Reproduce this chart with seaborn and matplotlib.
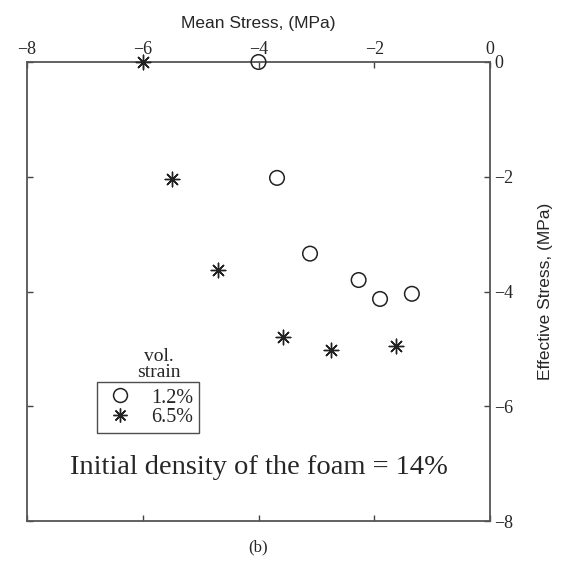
import matplotlib
matplotlib.use("Agg")
import matplotlib.pyplot as plt
import seaborn as sns
import pandas as pd
from matplotlib.lines import Line2D

# Data
circle_x = [-4.0, -3.68, -3.11, -2.27, -1.90, -1.35]
circle_y = [0.0, -2.02, -3.34, -3.80, -4.13, -4.04]
star_x = [-6.0, -5.50, -4.70, -3.58, -2.75, -1.63]
star_y = [0.0, -2.04, -3.62, -4.79, -5.02, -4.95]
series_labels = ["1.2%", "6.5%"]
ticks = [-8, -6, -4, -2, 0]
tick_labels = ["\u22128", "\u22126", "\u22124", "\u22122", "0"]

sns.set_theme(style="white")
plt.rcParams['font.family'] = ['Liberation Serif', 'DejaVu Serif']

df_c = pd.DataFrame({"x": circle_x, "y": circle_y})
df_s = pd.DataFrame({"x": star_x, "y": star_y})

fig = plt.figure(figsize=(5.63, 5.61), dpi=100)
ax = fig.add_axes([27/563, 1-521/561, 463/563, 459/561])

sns.scatterplot(data=df_c, x="x", y="y", ax=ax, marker="o", s=110,
                facecolors="none", edgecolor="#222222", linewidth=1.1,
                zorder=3, clip_on=False)
sns.scatterplot(data=df_s, x="x", y="y", ax=ax, marker=(8, 2, 0), s=110,
                color="#222222", linewidth=1.0, zorder=3, clip_on=False)

ax.set_xlim(-8, 0)
ax.set_ylim(-8, 0)
ax.set_xticks(ticks)
ax.set_yticks(ticks)
ax.set_xticklabels(tick_labels)
ax.set_yticklabels(tick_labels)
ax.xaxis.tick_top()
ax.yaxis.tick_right()
ax.tick_params(axis="both", which="both", direction="in", length=4, width=1,
               color="#444444", labelsize=13, pad=3,
               top=True, bottom=True, left=True, right=True,
               labeltop=True, labelbottom=False, labelright=True, labelleft=False)
for sp in ax.spines.values():
    sp.set_visible(True)
    sp.set_color("#555555")
    sp.set_linewidth(1.3)

ax.xaxis.set_label_position("top")
ax.yaxis.set_label_position("right")
ax.set_xlabel("Mean Stress, (MPa)", fontsize=12.5, family="Liberation Sans", labelpad=9)
ax.set_ylabel("Effective Stress, (MPa)", fontsize=12.5, family="Liberation Sans",
              labelpad=18, rotation=90)

handles = [Line2D([], [], linestyle="none", marker="o", markersize=10,
                  markerfacecolor="none", markeredgecolor="#222222", markeredgewidth=1.1),
           Line2D([], [], linestyle="none", marker=(8, 2, 0), markersize=10,
                  color="#222222", markeredgewidth=1.0)]
leg = ax.legend(handles, series_labels, loc="upper left",
                bbox_to_anchor=(0.151, 0.303), fontsize=14.5, frameon=True,
                fancybox=False, borderpad=0.3, handletextpad=0.7,
                labelspacing=0.0, handlelength=1.7, borderaxespad=0,
                handleheight=0.8)
leg.get_frame().set_edgecolor("#222222")
leg.get_frame().set_linewidth(1.0)

ax.text(0.284, 0.306, "vol.\nstrain", transform=ax.transAxes, ha="center",
        va="bottom", fontsize=14, linespacing=0.85)

ax.text(0.5, 0.117, "Initial density of the foam = 14%", transform=ax.transAxes,
        ha="center", va="center", fontsize=20.5)

fig.text(258/563, 1-547/561, "(b)", ha="center", va="center", fontsize=12)

fig.savefig("out.png", dpi=100, facecolor="white")
